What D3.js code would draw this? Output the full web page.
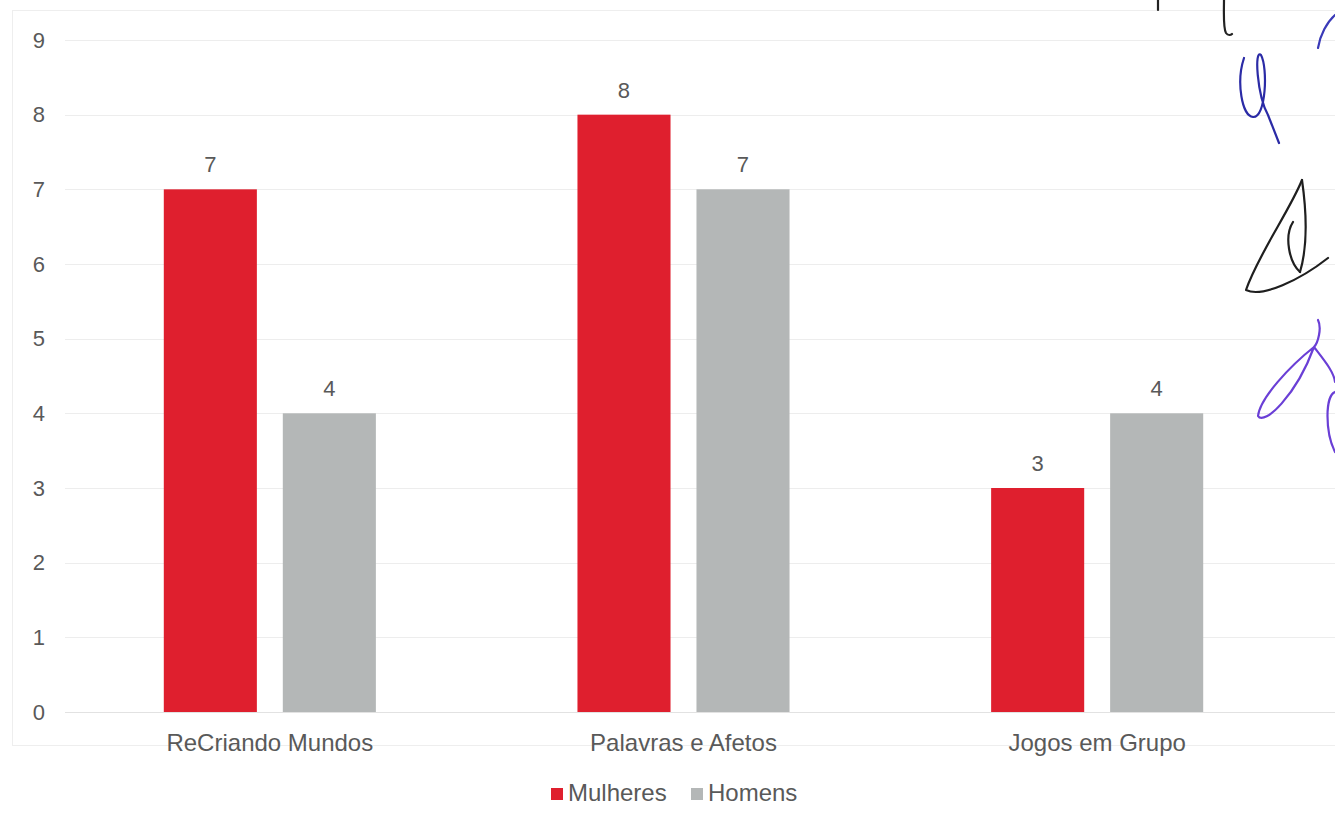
<!DOCTYPE html>
<html>
<head>
<meta charset="utf-8">
<script src="https://cdn.jsdelivr.net/npm/d3@7"></script>
<style>
  html, body { margin: 0; padding: 0; background: #ffffff; }
  svg { display: block; }
  text { font-family: "Liberation Sans", Arial, sans-serif; fill: #595959; }
</style>
</head>
<body>
<svg id="chart" width="1335" height="822"></svg>
<script>
// Participants per workshop, by gender
const categories = ["ReCriando Mundos", "Palavras e Afetos", "Jogos em Grupo"];
const seriesNames = ["Mulheres", "Homens"];
const mulheres = [7, 8, 3];
const homens = [4, 7, 4];
const yTicks = [0, 1, 2, 3, 4, 5, 6, 7, 8, 9];
const seriesColors = ["#df1f2e", "#b4b7b7"];

const values = [mulheres, homens];
const rows = categories.map((c, i) => ({
  category: c,
  items: seriesNames.map((s, k) => ({ series: s, value: values[k][i] }))
}));

const svg = d3.select("#chart");
const FONT = "'Liberation Sans', Arial, sans-serif";

// faint outer frame of the chart area
svg.append("rect")
  .attr("x", 12.5).attr("y", 10.5)
  .attr("width", 1340).attr("height", 735)
  .attr("fill", "none")
  .attr("stroke", "#eeeeee")
  .attr("stroke-width", 1);

const y = d3.scaleLinear().domain([0, 9]).range([712, 40]);
const x0 = d3.scaleBand().domain(categories).range([63, 1304]).padding(0);
const x1 = d3.scaleBand().domain(seriesNames).range([0, x0.bandwidth()])
  .paddingInner(0.218).paddingOuter(0.847);
const color = d3.scaleOrdinal().domain(seriesNames).range(seriesColors);

// horizontal gridlines
svg.append("g")
  .selectAll("line")
  .data(yTicks)
  .join("line")
  .attr("x1", 65).attr("x2", 1335)
  .attr("y1", d => Math.round(y(d)) + 0.5)
  .attr("y2", d => Math.round(y(d)) + 0.5)
  .attr("stroke", d => d === 0 ? "#e2e2e2" : "#ededed")
  .attr("stroke-width", 1);

// y axis labels
const yAxis = d3.axisLeft(y).tickValues(yTicks).tickSize(0).tickPadding(0);
svg.append("g")
  .attr("transform", "translate(45,0)")
  .call(yAxis)
  .call(g => g.select(".domain").remove())
  .call(g => g.selectAll("text")
    .attr("font-size", 22)
    .attr("fill", "#707070")
    .style("font-family", FONT));

// bars
const groups = svg.append("g")
  .selectAll("g")
  .data(rows)
  .join("g")
  .attr("transform", d => `translate(${x0(d.category)},0)`);

groups.selectAll("rect")
  .data(d => d.items)
  .join("rect")
  .attr("x", d => x1(d.series))
  .attr("y", d => y(d.value))
  .attr("width", x1.bandwidth())
  .attr("height", d => y(0) - y(d.value))
  .attr("fill", d => color(d.series));

// value labels
groups.selectAll("text")
  .data(d => d.items)
  .join("text")
  .attr("x", d => x1(d.series) + x1.bandwidth() / 2)
  .attr("y", d => y(d.value) - 17)
  .attr("text-anchor", "middle")
  .attr("font-size", 22)
  .text(d => d.value);

// category axis
const xAxis = d3.axisBottom(x0).tickSize(0).tickPadding(0);
svg.append("g")
  .attr("transform", "translate(0,751)")
  .call(xAxis)
  .call(g => g.select(".domain").remove())
  .call(g => g.selectAll("text")
    .attr("font-size", 24)
    .attr("dy", null)
    .attr("y", 0)
    .style("font-family", FONT)
    .attr("fill", "#595959"));

// legend
const legendX = [551, 691];
const legend = svg.append("g")
  .selectAll("g")
  .data(seriesNames)
  .join("g")
  .attr("transform", (d, i) => `translate(${legendX[i]},788)`);
legend.append("rect")
  .attr("width", 12).attr("height", 12)
  .attr("fill", d => color(d));
legend.append("text")
  .attr("x", 17).attr("y", 13)
  .attr("font-size", 24)
  .text(d => d);

// handwritten initials in the right margin
const ink = svg.append("g").attr("fill", "none").attr("stroke-linecap", "round")
  .attr("stroke-linejoin", "round").attr("stroke-width", 2.2);
const strokes = [
  { c: "#222222", d: "M1158,0 L1158,10" },
  { c: "#222222", d: "M1224,0 C1224,12 1223,28 1226,33 C1228,36 1231,35 1232,34" },
  { c: "#3a3ab8", d: "M1318,48 C1320,35 1327,22 1335,15" },
  { c: "#2b2ba6", d: "M1244,58 C1236,82 1242,116 1253,117 C1266,118 1268,68 1261,55 C1254,48 1257,95 1268,115 L1279,143" },
  { c: "#1f1f1f", d: "M1302,180 C1290,210 1258,255 1246,290 C1262,298 1300,280 1328,258" },
  { c: "#1f1f1f", d: "M1302,180 C1308,222 1306,252 1300,272" },
  { c: "#1f1f1f", d: "M1293,222 C1284,236 1289,262 1300,272" },
  { c: "#6a3fd6", d: "M1318,320 C1322,328 1318,343 1314,347 C1290,366 1260,398 1258,416 C1264,426 1296,396 1314,347 C1324,360 1334,372 1335,382" },
  { c: "#6a3fd6", d: "M1335,392 C1325,396 1325,432 1335,452" }
];
ink.selectAll("path")
  .data(strokes)
  .join("path")
  .attr("d", d => d.d)
  .attr("stroke", d => d.c);
</script>
</body>
</html>
